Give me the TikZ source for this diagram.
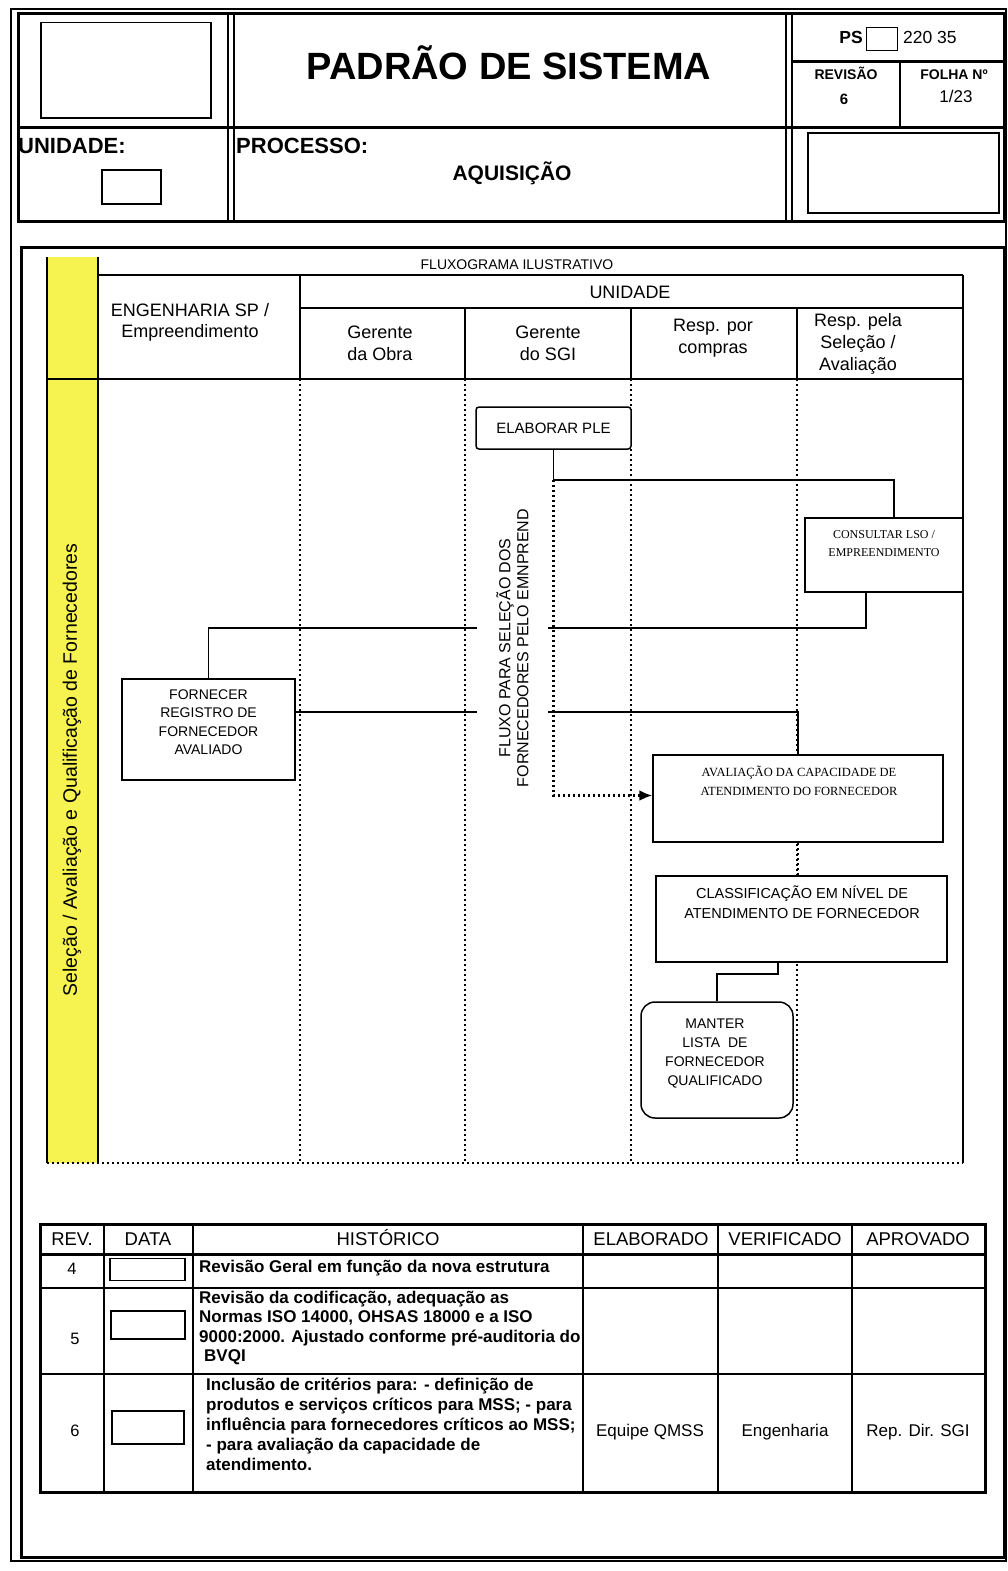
\documentclass[tikz,border=0pt]{standalone}
\usepackage{fontspec}
\setmainfont{Liberation Sans}
\newfontfamily\boxserif{Liberation Serif}
\usetikzlibrary{arrows.meta,calc}
\newcommand\fsz[2]{\fontsize{#1}{#2}\selectfont}
\definecolor{bandyellow}{RGB}{246,242,80}

\begin{document}
\begin{tikzpicture}[x=1pt,y=-1pt,
  thickline/.style={line width=3pt},
  rule/.style={line width=1.8pt},
  lane/.style={line width=2.5pt, dash pattern=on 2pt off 3pt},
  frame/.style={draw, line width=1.5pt, inner sep=0pt},
  stepbox/.style={draw, line width=1.5pt, fill=white, inner sep=0pt},
  conn/.style={line width=1.5pt},
  txt/.style={inner sep=0pt, text=black},
]
\useasboundingbox (0,0) rectangle (1008,1571);
\fill[white] (0,0) rectangle (1008,1571);

% ---------- page frame and header block ----------
\draw[line width=1.2pt] (11,9) rectangle (1006,1561);
\draw[thickline] (18,14) rectangle (1004,221);
\draw[thickline] (18,127) -- (1004,127);
\draw[rule] (228,14) -- (228,221);
\draw[rule] (234,14) -- (234,221);
\draw[rule] (786,14) -- (786,221);
\draw[rule] (792,14) -- (792,221);
\draw[thickline] (792,62) -- (1004,62);
\draw[rule] (900,62) -- (900,127);

\node[frame, minimum width=170, minimum height=95, anchor=north west] (logo) at (40,22) {};
\node[frame, minimum width=191, minimum height=80, anchor=north west] (stamp) at (807,132) {};
\node[frame, minimum width=59, minimum height=34, anchor=north west] (unitbox) at (101,169) {};
\node[frame, line width=1.3pt, minimum width=31, minimum height=23, anchor=north west] (psbox) at (866,27) {};

\node[txt, anchor=base, font=\bfseries\fsz{38}{40}] (title) at (509,80) {PADRÃO DE SISTEMA};
\node[txt, anchor=base west, font=\bfseries\fsz{22}{24}] (unidade) at (18,153) {UNIDADE:};
\node[txt, anchor=base west, font=\bfseries\fsz{22}{24}] (processo) at (236,153) {PROCESSO:};
\node[txt, anchor=base, font=\bfseries\fsz{21}{23}] (aquisicao) at (512,180) {AQUISIÇÃO};
\node[txt, anchor=base east, font=\bfseries\fsz{17.5}{19}] (ps) at (863,44) {PS};
\node[txt, anchor=base west, font=\fsz{17.5}{19}] (pscode) at (903,44) {220 35};
\node[txt, anchor=base, font=\bfseries\fsz{14}{16}] (revisao) at (846,80) {REVISÃO};
\node[txt, anchor=base, font=\bfseries\fsz{15}{17}] (revnum) at (844,104) {6};
\node[txt, anchor=base, font=\bfseries\fsz{14}{16}] (folha) at (954,80) {FOLHA Nº};
\node[txt, anchor=base, font=\fsz{17}{19}] (folhanum) at (956,102) {1/23};

% ---------- flowchart frame ----------
\draw[thickline] (21,247) rectangle (1004,1557);
\node[txt, anchor=base, font=\fsz{14}{16}] (fluxograma) at (517,269) {FLUXOGRAMA ILUSTRATIVO};

\fill[bandyellow] (47,257) rectangle (98,1163);
\draw[rule] (47,257) -- (47,1163);
\draw[rule] (98,257) -- (98,1163);
\node[txt, rotate=90, font=\fsz{19.5}{21}] (bandtext) at (72,770)
  {Seleção / Avaliação e Qualificação de Fornecedores};

% swimlane header
\draw[rule] (98,275) -- (963,275);
\draw[rule] (300,308) -- (963,308);
\draw[rule] (47,379) -- (963,379);
\draw[rule] (963,275) -- (963,1163);
\draw[rule] (300,275) -- (300,379);
\foreach \lx in {465,631,797} \draw[rule] (\lx,308) -- (\lx,379);

\node[txt, align=center, font=\fsz{18}{21}] (hEng) at (190,322) {ENGENHARIA SP /\\Empreendimento};
\node[txt, anchor=base, font=\fsz{18}{21}] (hUni) at (630,298) {UNIDADE};
\node[txt, align=center, font=\fsz{18}{22}] (hObra) at (380,343) {Gerente\\da Obra};
\node[txt, align=center, font=\fsz{18}{22}] (hSgi) at (548,343) {Gerente\\do SGI};
\node[txt, align=center, font=\fsz{18}{22}] (hCompras) at (713,338) {Resp. por\\compras};
\node[txt, align=center, font=\fsz{18}{22}] (hSel) at (858,344) {Resp. pela\\Seleção /\\Avaliação};

% swimlane separators
\foreach \lx in {300,465,631,797} \draw[lane] (\lx,379) -- (\lx,1163);
\draw[lane] (47,1163) -- (963,1163);

% ---------- process steps ----------
\node[stepbox, rounded corners=3, minimum width=155, minimum height=42, font=\fsz{15}{17}] (elab) at (553.5,428) {ELABORAR PLE};

\node[stepbox, minimum width=158, minimum height=74] (consult) at (884,555) {};
\node[txt, align=center, font=\boxserif\fsz{12}{18}] (consult-t) at (884,544) {CONSULTAR LSO /\\EMPREENDIMENTO};

\node[stepbox, minimum width=173, minimum height=101] (fornecer) at (208.5,729.5) {};
\node[txt, align=center, font=\fsz{14}{18.5}] (fornecer-t) at (208.5,722) {FORNECER\\REGISTRO DE\\FORNECEDOR\\AVALIADO};

\node[stepbox, minimum width=290, minimum height=87] (aval) at (798,798.5) {};
\node[txt, align=center, font=\boxserif\fsz{12.5}{19}] (aval-t) at (799,781) {AVALIAÇÃO DA CAPACIDADE DE\\ATENDIMENTO DO FORNECEDOR};

\node[stepbox, minimum width=291, minimum height=86] (classif) at (801.5,919) {};
\node[txt, align=center, font=\fsz{14.5}{20}] (classif-t) at (802,902) {CLASSIFICAÇÃO EM NÍVEL DE\\ATENDIMENTO DE FORNECEDOR};

\node[stepbox, rounded corners=14, minimum width=152, minimum height=116] (manter) at (717,1060) {};
\node[txt, align=center, font=\fsz{14}{19}] (manter-t) at (715,1053) {MANTER\\LISTA\ \ DE\\FORNECEDOR\\QUALIFICADO};

% ---------- connectors ----------
\coordinate (j1) at ($(elab.south)+(0,30)$);
\draw[conn] (elab.south) -- (j1) -| ([xshift=10pt]consult.north);
\draw[line width=2.3pt, dash pattern=on 2.5pt off 2.5pt, -{Latex[length=13pt,width=11pt]}]
  (j1) |- ([yshift=3pt]aval.west);
\draw[conn] ([xshift=-18pt]consult.south) -- ++(0,35) -| (fornecer.north);
\draw[conn] ([yshift=17.5pt]fornecer.east) -| (aval.north);
\draw[lane] (aval.south) -- (aval.south |- classif.north);
\draw[conn] ([xshift=-23.5pt]classif.south) -- ++(0,11) -| (manter.north);

% lane label that interrupts the crossing connectors
\node[txt, rotate=90, fill=white, minimum height=71, align=center, font=\fsz{16}{18}] (fluxo) at (512.5,648)
  {FLUXO PARA SELEÇÃO DOS\\FORNECEDORES PELO EMNPREND};

% ---------- revision table ----------
\draw[thickline] (40,1224) rectangle (985,1492);
\draw[thickline] (40,1254) -- (985,1254);
\draw[rule] (40,1288) -- (985,1288);
\draw[rule] (40,1374) -- (985,1374);
\foreach \cx in {104,193,583,718,852} \draw[rule] (\cx,1224) -- (\cx,1492);

\node[txt, anchor=base, font=\fsz{18.5}{20}] (tRev) at (72,1245) {REV.};
\node[txt, anchor=base, font=\fsz{18.5}{20}] (tData) at (148,1245) {DATA};
\node[txt, anchor=base, font=\fsz{18.5}{20}] (tHist) at (388,1245) {HISTÓRICO};
\node[txt, anchor=base, font=\fsz{18.5}{20}] (tElab) at (651,1245) {ELABORADO};
\node[txt, anchor=base, font=\fsz{18.5}{20}] (tVer) at (785,1245) {VERIFICADO};
\node[txt, anchor=base, font=\fsz{18.5}{20}] (tApr) at (918,1245) {APROVADO};

\node[frame, minimum width=75, minimum height=22] (d4) at (147.5,1269.5) {};
\node[frame, minimum width=74, minimum height=28] (d5) at (148,1325) {};
\node[frame, minimum width=72, minimum height=33] (d6) at (148,1427.5) {};

\node[txt, anchor=base, font=\fsz{16.5}{18}] (r4) at (72,1274) {4};
\node[txt, anchor=base, font=\fsz{16.5}{18}] (r5) at (75,1344) {5};
\node[txt, anchor=base, font=\fsz{16.5}{18}] (r6) at (75,1436) {6};

\node[txt, anchor=base west, font=\bfseries\fsz{17}{19.5}] (h4) at (199,1272)
  {Revisão Geral em função da nova estrutura};
\node[txt, anchor=north west, align=left, font=\bfseries\fsz{17}{19.3}] (h5) at (199,1291)
  {Revisão da codificação, adequação as\\Normas ISO 14000, OHSAS 18000 e a ISO\\9000:2000. Ajustado conforme pré-auditoria do\\\hspace{5pt}BVQI};
\node[txt, anchor=north west, align=left, font=\bfseries\fsz{17}{20.2}] (h6) at (206,1377.5)
  {Inclusão de critérios para: - definição de\\produtos e serviços críticos para MSS; - para\\influência para fornecedores críticos ao MSS;\\- para avaliação da capacidade de\\atendimento.};

\node[txt, anchor=base, font=\fsz{17}{19}] (e6) at (650,1436) {Equipe QMSS};
\node[txt, anchor=base, font=\fsz{17}{19}] (v6) at (785,1436) {Engenharia};
\node[txt, anchor=base, font=\fsz{17}{19}] (a6) at (918,1436) {Rep. Dir. SGI};
\end{tikzpicture}
\end{document}
